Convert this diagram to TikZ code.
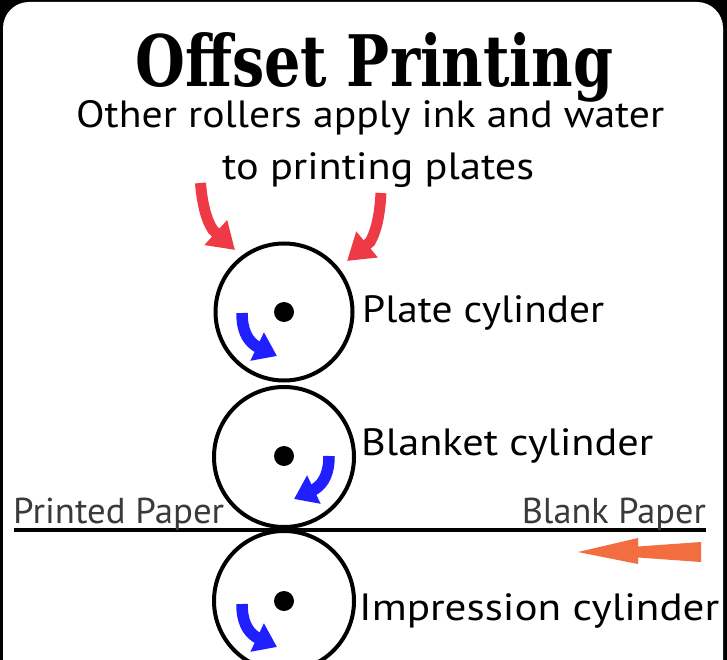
\documentclass[tikz,border=0pt]{standalone}
\usepackage{fontspec}
\setmainfont{PT Sans}
\newfontfamily\titlefont{DejaVu Serif}
\usetikzlibrary{arrows.meta}
\definecolor{inkred}{HTML}{EE3A44}
\definecolor{rotblue}{HTML}{1F1FFF}
\definecolor{feedorange}{HTML}{F26D3F}
\definecolor{papergray}{HTML}{3A3A3A}
\newcommand{\fitwidth}[2]{\resizebox{#1}{\height}{#2}}
\begin{document}
\begin{tikzpicture}[x=1pt,y=-1pt,
  cyl/.style={circle, draw, line width=4pt, minimum size=#1, inner sep=0pt},
  axle/.style={circle, fill=black, minimum size=20pt, inner sep=0pt},
  lbl/.style={font=\fontsize{38}{40}\selectfont, inner sep=0pt, anchor=base west},
  paperlbl/.style={font=\fontsize{36}{40}\selectfont, text=papergray, inner sep=0pt},
  bluearrow/.style={draw=rotblue, line width=11.5pt, -{Triangle[length=22pt,width=30pt]}},
  redarrow/.style={draw=inkred, line width=11pt, -{Triangle[length=26pt,width=32pt]}}]
\useasboundingbox (0,0) rectangle (727,660);
\fill[black] (0,0) rectangle (727,660);
\begin{scope}
  \clip (0,0) rectangle (727,660);
  \fill[white, rounded corners=26pt] (3,2) rectangle (723,720);
\end{scope}
% title and subtitle
\node[inner sep=0pt, anchor=base west] (title) at (135,87)
  {\resizebox{478pt}{54pt}{\titlefont\bfseries Offset Printing}};
\node[lbl] (sub1) at (76,128) {\fitwidth{588pt}{Other rollers apply ink and water}};
\node[lbl] (sub2) at (222,180) {\fitwidth{312pt}{to printing plates}};
% paper line
\coordinate (pleft) at (14,530);
\coordinate (pright) at (706,530);
\draw[line width=4pt] (pleft) -- (pright);
% cylinders
\node[cyl=137pt] (plate) at (284,312) {};
\node[cyl=140pt] (blanket) at (284,457) {};
\node[cyl=140pt] (impr) at (284,601) {};
\node[axle] (plateaxle) at (284,312) {};
\node[axle] (blanketaxle) at (284,456) {};
\node[axle] (impraxle) at (284,601) {};
% labels
\node[lbl] (platelbl) at (362,322) {\fitwidth{242pt}{Plate cylinder}};
\node[lbl] (blanketlbl) at (361,455) {\fitwidth{292pt}{Blanket cylinder}};
\node[lbl] (imprlbl) at (359,620) {\fitwidth{360pt}{Impression cylinder}};
\node[paperlbl, anchor=base west] (printed) at (13,523) {\fitwidth{211pt}{Printed Paper}};
\node[paperlbl, anchor=base east] (blank) at (706,523) {\fitwidth{184pt}{Blank Paper}};
% blue rotation arrows
\coordinate (pa0) at (242,313); \coordinate (pa1) at (256,346); \coordinate (pa2) at (277,356);
\draw[bluearrow] (pa0) .. controls (242,330) and (247,340) .. (pa1) -- (pa2);
\coordinate (ba0) at (329,456); \coordinate (ba1) at (315,489); \coordinate (ba2) at (294,499);
\draw[bluearrow] (ba0) .. controls (329,473) and (324,483) .. (ba1) -- (ba2);
\coordinate (ia0) at (242,604); \coordinate (ia1) at (256,637); \coordinate (ia2) at (277,647);
\draw[bluearrow] (ia0) .. controls (242,621) and (247,631) .. (ia1) -- (ia2);
% red ink arrows
\coordinate (ra0) at (200.5,183); \coordinate (ra1) at (213,230); \coordinate (ra2) at (235,250);
\draw[redarrow] (ra0) .. controls (202,202) and (206,220) .. (ra1) -- (ra2);
\coordinate (rb0) at (381,193); \coordinate (rb1) at (370,242); \coordinate (rb2) at (347,261);
\draw[redarrow] (rb0) .. controls (380,212) and (377,230) .. (rb1) -- (rb2);
% orange feed arrow
\coordinate (oa0) at (701,542); \coordinate (oa1) at (578,552);
\fill[feedorange] (oa0) -- (638,546.5) -- (638,538) -- (oa1) -- (638,564) -- (638,557.5) -- (701,562) -- cycle;
\end{tikzpicture}
\end{document}
